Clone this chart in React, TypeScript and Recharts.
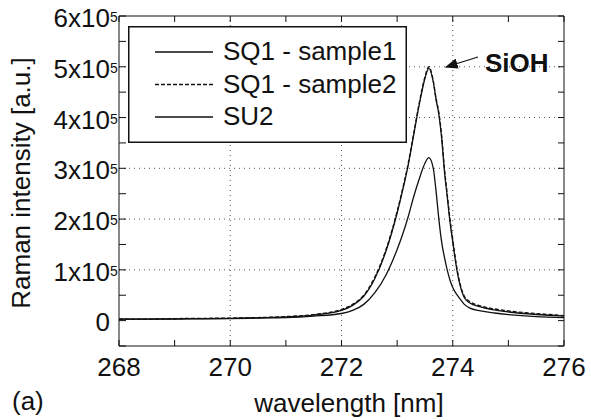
import React from "react"
import {
  LineChart,
  Line,
  XAxis,
  YAxis,
  ReferenceLine,
  Legend,
} from "recharts"

// wavelength in nm, intensities in units of 1e5 a.u.
const wavelength = [
  268, 268.5, 269, 269.5, 270, 270.5, 271, 271.5, 272, 272.2, 272.4, 272.6,
  272.8, 273.0, 273.1, 273.2, 273.3, 273.4, 273.5, 273.57, 273.65, 273.7,
  273.75, 273.8, 273.85, 273.9, 273.95, 274.0, 274.08, 274.15, 274.2, 274.3,
  274.5, 274.75, 275, 275.5, 276,
]

const sq1Sample1 = [
  0.03, 0.03, 0.035, 0.04, 0.045, 0.055, 0.075, 0.11, 0.2, 0.3, 0.48, 0.83,
  1.37, 2.12, 2.57, 3.07, 3.67, 4.27, 4.77, 4.97, 4.7, 4.35,
  4.06, 3.6, 2.95, 2.45, 1.95, 1.55, 0.96, 0.62, 0.47, 0.35,
  0.27, 0.21, 0.17, 0.12, 0.09,
]

const sq1Sample2 = [
  0.03, 0.03, 0.04, 0.045, 0.05, 0.06, 0.08, 0.12, 0.22, 0.32, 0.5, 0.86,
  1.4, 2.15, 2.6, 3.1, 3.7, 4.3, 4.8, 5.0, 4.72, 4.38,
  4.1, 3.65, 3.0, 2.5, 2.0, 1.6, 1.0, 0.65, 0.5, 0.38,
  0.29, 0.23, 0.19, 0.14, 0.1,
]

const su2 = [
  0.03, 0.03, 0.03, 0.035, 0.04, 0.05, 0.06, 0.09, 0.14, 0.2, 0.32, 0.55,
  0.9, 1.4, 1.7, 2.05, 2.45, 2.8, 3.1, 3.21, 3.0, 2.55,
  2.0, 1.55, 1.25, 1.0, 0.8, 0.65, 0.5, 0.4, 0.33, 0.25,
  0.19, 0.15, 0.12, 0.08, 0.06,
]

const xTicks = [268, 269, 270, 271, 272, 273, 274, 275, 276]
const xGrid = [270, 272, 274]
const yTicks = [-0.5, 0, 0.5, 1, 1.5, 2, 2.5, 3, 3.5, 4, 4.5, 5, 5.5, 6]
const yGrid = [1, 2, 3, 4, 5]

const series = [
  { key: "s1", name: "SQ1 - sample1", dash: undefined },
  { key: "s2", name: "SQ1 - sample2", dash: "4 2" },
  { key: "su2", name: "SU2", dash: undefined },
]

const rows = wavelength.map((nm, i) => ({
  nm,
  s1: sq1Sample1[i],
  s2: sq1Sample2[i],
  su2: su2[i],
}))

const FONT = "'Liberation Sans', Arial, Helvetica, sans-serif"
const INK = "#111"
const FS = 26

const LeftTick = ({ x, y, payload }: any) => {
  const v = payload.value
  const major = Number.isInteger(v)
  return (
    <g>
      <line x1={x} x2={x + 7} y1={y} y2={y} stroke={INK} />
      {major && v === 0 && (
        <text x={x - 9} y={y + 10} textAnchor="end" fontSize={FS} fontFamily={FONT} fill={INK}>
          0
        </text>
      )}
      {major && v !== 0 && (
        <>
          <text x={x - 9} y={y + 11} textAnchor="end" fontSize={FS} fontFamily={FONT} fill={INK}>
            {v}x10
          </text>
          <text x={x - 9} y={y + 6} textAnchor="start" fontSize={14} fontFamily={FONT} fill={INK}>
            5
          </text>
        </>
      )}
    </g>
  )
}

const RightTick = ({ x, y }: any) => (
  <line x1={x} x2={x - 6} y1={y} y2={y} stroke={INK} />
)

const BottomTick = ({ x, y, payload }: any) => {
  const v = payload.value
  return (
    <g>
      <line x1={x} x2={x} y1={y} y2={y - 6} stroke={INK} />
      {v % 2 === 0 && (
        <text x={x} y={y + 30} textAnchor="middle" fontSize={FS} fontFamily={FONT} fill={INK}>
          {v}
        </text>
      )}
    </g>
  )
}

const TopTick = ({ x, y }: any) => (
  <line x1={x} x2={x} y1={y} y2={y + 6} stroke={INK} />
)

const LegendBox = () => (
  <svg width={279} height={117} style={{ display: "block" }}>
    <rect x={0.75} y={0.75} width={277.5} height={115.5} fill="#fff" stroke={INK} strokeWidth={1.5} />
    {series.map((s, i) => {
      const ly = 26 + i * 32.5
      return (
        <g key={s.key}>
          <line x1={27} x2={85} y1={ly} y2={ly} stroke={INK} strokeWidth={1.3} strokeDasharray={s.dash} />
          <text x={95} y={ly + 8} fontSize={FS} fontFamily={FONT} fill={INK}>
            {s.name}
          </text>
        </g>
      )
    })}
  </svg>
)

export default function App() {
  return (
    <div style={{ position: "absolute", left: 0, top: 0, width: 591, height: 420, background: "#fff" }}>
      <LineChart width={591} height={420} data={rows} margin={{ top: 0, right: 0, bottom: 0, left: 0 }}>
        <XAxis
          xAxisId="bottom"
          dataKey="nm"
          type="number"
          domain={[268, 276]}
          ticks={xTicks}
          interval={0}
          allowDataOverflow
          height={74}
          tickSize={0}
          tickMargin={0}
          tickLine={false}
          axisLine={{ stroke: INK }}
          tick={<BottomTick />}
        />
        <XAxis
          xAxisId="top"
          orientation="top"
          dataKey="nm"
          type="number"
          domain={[268, 276]}
          ticks={xTicks}
          interval={0}
          allowDataOverflow
          height={16}
          tickSize={0}
          tickMargin={0}
          tickLine={false}
          axisLine={{ stroke: INK }}
          tick={<TopTick />}
        />
        <YAxis
          yAxisId="left"
          type="number"
          domain={[-0.5, 6]}
          ticks={yTicks}
          interval={0}
          allowDataOverflow
          width={119}
          tickSize={0}
          tickMargin={0}
          tickLine={false}
          axisLine={{ stroke: INK }}
          tick={<LeftTick />}
        />
        <YAxis
          yAxisId="right"
          orientation="right"
          type="number"
          domain={[-0.5, 6]}
          ticks={yTicks}
          interval={0}
          allowDataOverflow
          width={27}
          tickSize={0}
          tickMargin={0}
          tickLine={false}
          axisLine={{ stroke: INK }}
          tick={<RightTick />}
        />
        {xGrid.map((v) => (
          <ReferenceLine key={"x" + v} x={v} xAxisId="bottom" yAxisId="left" stroke="#555" strokeDasharray="1 4" />
        ))}
        {yGrid.map((v) => (
          <ReferenceLine key={"y" + v} y={v} xAxisId="bottom" yAxisId="left" stroke="#555" strokeDasharray="1 4" />
        ))}
        {series.map((s) => (
          <Line
            key={s.key}
            xAxisId="bottom"
            yAxisId="left"
            dataKey={s.key}
            name={s.name}
            type="monotone"
            stroke={INK}
            strokeWidth={1.3}
            strokeDasharray={s.dash}
            dot={false}
            activeDot={false}
            isAnimationActive={false}
          />
        ))}
        <Legend
          layout="vertical"
          align="center"
          verticalAlign="middle"
          content={() => <LegendBox />}
          wrapperStyle={{ left: 128, top: 26, width: 279, height: 117 }}
        />
      </LineChart>
      <svg
        width={591}
        height={420}
        style={{ position: "absolute", left: 0, top: 0, pointerEvents: "none" }}
      >
        <defs>
          <marker id="arrowHead" markerWidth="10" markerHeight="8" refX="9" refY="4" orient="auto">
            <path d="M0,0 L10,4 L0,8 Z" fill={INK} />
          </marker>
        </defs>
        <line x1={478} y1={57} x2={446} y2={67} stroke={INK} strokeWidth={1.3} markerEnd="url(#arrowHead)" />
        <text x={485} y={72} fontSize={FS} fontWeight="bold" fontFamily={FONT} fill={INK}>
          SiOH
        </text>
        <text
          transform="translate(30,183) rotate(-90)"
          textAnchor="middle"
          fontSize={FS}
          fontFamily={FONT}
          fill={INK}
        >
          Raman intensity [a.u.]
        </text>
        <text x={349} y={412} textAnchor="middle" fontSize={FS} fontFamily={FONT} fill={INK}>
          wavelength [nm]
        </text>
        <text x={12} y={410} fontSize={FS} fontFamily={FONT} fill={INK}>
          (a)
        </text>
      </svg>
    </div>
  )
}
